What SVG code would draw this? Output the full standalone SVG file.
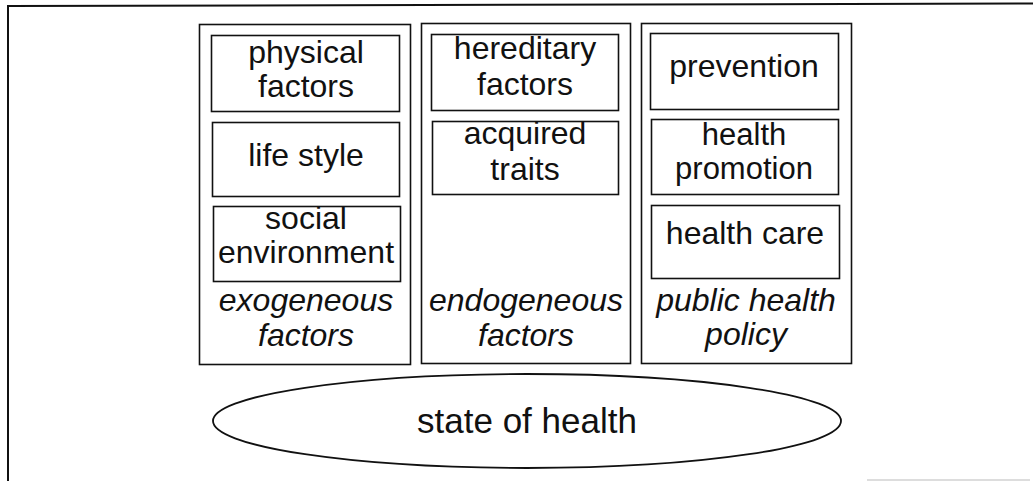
<svg xmlns="http://www.w3.org/2000/svg" width="1033" height="481" viewBox="0 0 1033 481">
  <style>
    .frame { fill: none; stroke: #111; stroke-width: 2; }
    .col { fill: #fff; stroke: #111; stroke-width: 1.6; }
    .box { fill: #fff; stroke: #111; stroke-width: 1.6; }
    .t { font-family: "Liberation Sans", Arial, sans-serif; font-size: 32px; fill: #111; text-anchor: middle; }
    .it { font-style: italic; }
    .big { font-size: 35px; }
    .tight { font-size: 31px; }
  </style>

  <rect width="1033" height="481" fill="#fff"/>

  <!-- page frame -->
  <g id="frame">
    <line class="frame" x1="8" y1="6" x2="1033" y2="3.5"/>
    <line class="frame" x1="8" y1="5" x2="8" y2="481"/>
    <line x1="867" y1="480" x2="1030" y2="480" stroke="#bbb" stroke-width="1"/>
  </g>

  <!-- exogeneous factors column -->
  <g id="col-exogeneous">
    <rect class="col" x="199.5" y="24.5" width="211" height="340"/>
    <text class="t it" x="306" y="311">exogeneous</text>
    <text class="t it" x="306" y="346">factors</text>
  </g>
  <g id="physical-factors">
    <rect class="box" x="211.5" y="35.5" width="188" height="76"/>
    <text class="t" x="306" y="63">physical</text>
    <text class="t" x="306" y="97">factors</text>
  </g>
  <g id="life-style">
    <rect class="box" x="212.5" y="122.5" width="187" height="74"/>
    <text class="t" x="306" y="166">life style</text>
  </g>
  <g id="social-environment">
    <rect class="box" x="213.5" y="206.5" width="187" height="75"/>
    <text class="t" x="306" y="229">social</text>
    <text class="t" x="306" y="263">environment</text>
  </g>

  <!-- endogeneous factors column -->
  <g id="col-endogeneous">
    <rect class="col" x="421.5" y="23.5" width="209" height="340"/>
    <text class="t it" x="526" y="311">endogeneous</text>
    <text class="t it" x="526" y="346">factors</text>
  </g>
  <g id="hereditary-factors">
    <rect class="box" x="431.5" y="34.5" width="187" height="76"/>
    <text class="t" x="525" y="59">hereditary</text>
    <text class="t" x="525" y="95">factors</text>
  </g>
  <g id="acquired-traits">
    <rect class="box" x="432.5" y="121.5" width="186" height="73"/>
    <text class="t" x="525" y="144">acquired</text>
    <text class="t" x="525" y="180">traits</text>
  </g>

  <!-- public health policy column -->
  <g id="col-public-health-policy">
    <rect class="col" x="641.5" y="23.5" width="210" height="340"/>
    <text class="t it" x="746" y="311">public health</text>
    <text class="t it" x="746" y="345">policy</text>
  </g>
  <g id="prevention">
    <rect class="box" x="650.5" y="33.5" width="188" height="76"/>
    <text class="t" x="744" y="77">prevention</text>
  </g>
  <g id="health-promotion">
    <rect class="box" x="651.5" y="119.5" width="187" height="75"/>
    <text class="t tight" x="744" y="145">health</text>
    <text class="t tight" x="744" y="179">promotion</text>
  </g>
  <g id="health-care">
    <rect class="box" x="651.5" y="205.5" width="188" height="73"/>
    <text class="t" x="745" y="244">health care</text>
  </g>

  <!-- outcome -->
  <g id="state-of-health">
    <ellipse cx="527" cy="421" rx="314" ry="47" fill="#fff" stroke="#111" stroke-width="1.8"/>
    <text class="t big" x="527" y="433">state of health</text>
  </g>

  <g id="connectors"/>
</svg>
